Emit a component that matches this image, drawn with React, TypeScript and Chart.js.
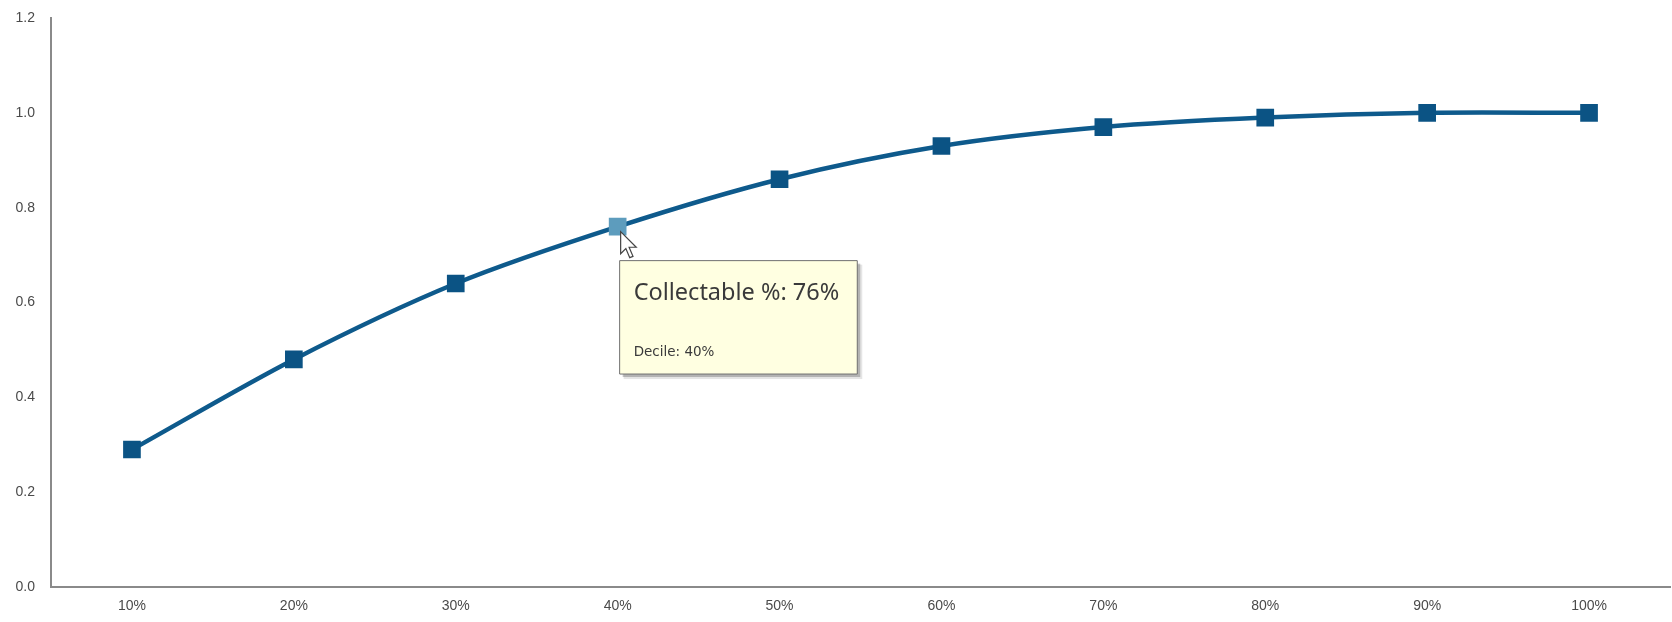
import React, { useEffect, useRef } from "react";
import { Chart, registerables, Tooltip } from "chart.js";

Chart.register(...registerables);

// Cumulative collectable share per decile
const deciles = ["10%", "20%", "30%", "40%", "50%", "60%", "70%", "80%", "90%", "100%"];
const collectable = [0.29, 0.48, 0.64, 0.76, 0.86, 0.93, 0.97, 0.99, 1.0, 1.0];
const yTicks = [0, 0.2, 0.4, 0.6, 0.8, 1.0, 1.2];
const highlightedIndex = 3;

const LINE_COLOR = "#0e5a8c";
const MARKER_COLOR = "#0b5384";
const MARKER_HIGHLIGHT = "#5d9cbd";
const AXIS_COLOR = "#8a8a8a";
const TICK_COLOR = "#4a4a4a";

// Place the tooltip just below-right of the hovered point
(Tooltip.positioners as any).belowPoint = function (items: any[]) {
  if (!items.length) return false;
  const el = items[0].element;
  return { x: el.x + 2, y: el.y + 34 };
};

// Drop shadow behind the tooltip box
const tooltipShadow = {
  id: "tooltipShadow",
  beforeTooltipDraw(chart: any, args: any) {
    const t = args.tooltip;
    if (!t || !t.opacity) return;
    const ctx = chart.ctx;
    ctx.save();
    ctx.fillStyle = "rgba(0,0,0,0.22)";
    ctx.fillRect(t.x + 3, t.y + 3, t.width, t.height);
    ctx.fillStyle = "rgba(0,0,0,0.10)";
    ctx.fillRect(t.x + 4, t.y + 4, t.width + 1, t.height + 1);
    ctx.restore();
  },
};

// Mouse pointer resting on the highlighted point
const pointerArrow = {
  id: "pointerArrow",
  afterDraw(chart: any) {
    const meta = chart.getDatasetMeta(0);
    const el = meta.data[highlightedIndex];
    if (!el) return;
    const ctx = chart.ctx;
    const x = el.x + 3;
    const y = el.y + 5;
    const s = 1.3;
    const pts = [
      [0, 0], [0, 17], [4, 13], [7, 20], [9.5, 19], [6.5, 12], [12, 12],
    ];
    ctx.save();
    ctx.beginPath();
    pts.forEach(([px, py], i) => {
      const X = x + px * s;
      const Y = y + py * s;
      if (i === 0) ctx.moveTo(X, Y);
      else ctx.lineTo(X, Y);
    });
    ctx.closePath();
    ctx.fillStyle = "#ffffff";
    ctx.fill();
    ctx.lineWidth = 1.2;
    ctx.strokeStyle = "#444444";
    ctx.stroke();
    ctx.restore();
  },
};

export default function App() {
  const canvasRef = useRef<HTMLCanvasElement | null>(null);

  useEffect(() => {
    const canvas = canvasRef.current;
    if (!canvas) return;

    const pointColors = collectable.map((_, i) =>
      i === highlightedIndex ? MARKER_HIGHLIGHT : MARKER_COLOR
    );

    const chart = new Chart(canvas, {
      type: "line",
      data: {
        labels: deciles,
        datasets: [
          {
            label: "Collectable %",
            data: collectable,
            borderColor: LINE_COLOR,
            borderWidth: 4.5,
            tension: 0.3,
            fill: false,
            pointStyle: "rect",
            pointRadius: 12.5,
            pointHoverRadius: 12.5,
            pointBorderWidth: 0,
            pointHoverBorderWidth: 0,
            pointBackgroundColor: pointColors,
            pointHoverBackgroundColor: pointColors,
            pointBorderColor: pointColors,
          },
        ],
      },
      options: {
        responsive: false,
        animation: false,
        events: [],
        layout: { autoPadding: false, padding: { top: 18, right: 2, left: 0, bottom: 0 } },
        plugins: {
          legend: { display: false },
          tooltip: {
            enabled: true,
            position: "belowPoint" as any,
            xAlign: "left",
            yAlign: "top",
            caretSize: 0,
            caretPadding: 0,
            cornerRadius: 0,
            displayColors: false,
            backgroundColor: "#ffffe1",
            borderColor: "#6f6f6f",
            borderWidth: 1,
            titleColor: "#3a3a3a",
            bodyColor: "#3a3a3a",
            titleFont: { family: "'Noto Sans', 'Open Sans', sans-serif", size: 23.5, weight: "normal" },
            bodyFont: { family: "'DejaVu Sans', sans-serif", size: 13.5 },
            titleMarginBottom: 37,
            padding: { top: 19, left: 14, right: 18, bottom: 13 },
            callbacks: {
              title: (items: any[]) =>
                `Collectable %: ${Math.round(items[0].parsed.y * 100)}%`,
              label: (item: any) => `Decile: ${item.label}`,
            },
          },
        },
        scales: {
          x: {
            type: "category",
            offset: true,
            grid: { display: false, drawTicks: false },
            border: { display: true, color: AXIS_COLOR, width: 2 },
            ticks: {
              color: TICK_COLOR,
              padding: 11,
              font: { family: "'Liberation Sans', Arial, sans-serif", size: 14 },
            },
            afterFit: (scale: any) => {
              scale.height = 35;
              scale.paddingLeft = 0;
              scale.paddingRight = 0;
            },
          },
          y: {
            min: yTicks[0],
            max: yTicks[yTicks.length - 1],
            afterBuildTicks: (scale: any) => {
              scale.ticks = yTicks.map((v) => ({ value: v }));
            },
            grid: { display: false, drawTicks: false },
            border: { display: true, color: AXIS_COLOR, width: 2 },
            ticks: {
              color: TICK_COLOR,
              padding: 16,
              font: { family: "'Liberation Sans', Arial, sans-serif", size: 14 },
              callback: (v: any) => Number(v).toFixed(1),
            },
            afterFit: (scale: any) => {
              scale.width = 51;
              scale.paddingTop = 0;
              scale.paddingBottom = 0;
            },
          },
        },
      },
      plugins: [tooltipShadow, pointerArrow],
    });

    const active = [{ datasetIndex: 0, index: highlightedIndex }];
    const el = chart.getDatasetMeta(0).data[highlightedIndex];
    chart.setActiveElements(active);
    chart.tooltip?.setActiveElements(active, { x: el.x, y: el.y });
    chart.update();

    return () => chart.destroy();
  }, []);

  return (
    <div style={{ position: "fixed", left: 0, top: 0, width: 1672, height: 622, background: "#ffffff" }}>
      <canvas ref={canvasRef} width={1672} height={622} />
    </div>
  );
}
